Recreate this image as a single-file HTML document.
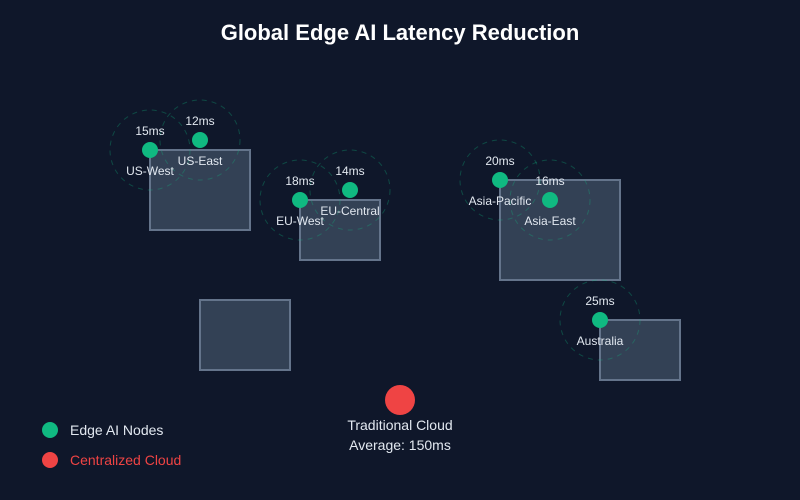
<!DOCTYPE html>
<html><head><style>body{margin:0;background:#0f172a}svg{display:block}</style></head><body>
<svg width="800" height="500" xmlns="http://www.w3.org/2000/svg" font-family="Liberation Sans, sans-serif">
<rect width="800" height="500" fill="#0f172a"/>
<text x="400" y="40" text-anchor="middle" font-size="22" font-weight="bold" fill="#fff">Global Edge AI Latency Reduction</text>
<g fill="#334155" stroke="#64748b" stroke-width="2">
<rect x="150" y="150" width="100" height="80"/>
<rect x="300" y="200" width="80" height="60"/>
<rect x="500" y="180" width="120" height="100"/>
<rect x="200" y="300" width="90" height="70"/>
<rect x="600" y="320" width="80" height="60"/>
</g>
<g fill="none" stroke="#10b981" stroke-opacity="0.3" stroke-dasharray="5,5">
<circle cx="150" cy="150" r="40"/><circle cx="200" cy="140" r="40"/>
<circle cx="300" cy="200" r="40"/><circle cx="350" cy="190" r="40"/>
<circle cx="500" cy="180" r="40"/><circle cx="550" cy="200" r="40"/>
<circle cx="600" cy="320" r="40"/>
</g>
<g fill="#10b981">
<circle cx="150" cy="150" r="8"/><circle cx="200" cy="140" r="8"/>
<circle cx="300" cy="200" r="8"/><circle cx="350" cy="190" r="8"/>
<circle cx="500" cy="180" r="8"/><circle cx="550" cy="200" r="8"/>
<circle cx="600" cy="320" r="8"/>
</g>
<g fill="#e2e8f0" font-size="12" text-anchor="middle">
<text x="150" y="135">15ms</text><text x="150" y="175">US-West</text>
<text x="200" y="125">12ms</text><text x="200" y="165">US-East</text>
<text x="300" y="185">18ms</text><text x="300" y="225">EU-West</text>
<text x="350" y="175">14ms</text><text x="350" y="215">EU-Central</text>
<text x="500" y="165">20ms</text><text x="500" y="205">Asia-Pacific</text>
<text x="550" y="185">16ms</text><text x="550" y="225">Asia-East</text>
<text x="600" y="305">25ms</text><text x="600" y="345">Australia</text>
</g>
<circle cx="400" cy="400" r="15" fill="#ef4444"/>
<g fill="#e2e8f0" font-size="14" text-anchor="middle">
<text x="400" y="430">Traditional Cloud</text>
<text x="400" y="450">Average: 150ms</text>
</g>
<circle cx="50" cy="430" r="8" fill="#10b981"/>
<text x="70" y="435" font-size="14" fill="#e2e8f0">Edge AI Nodes</text>
<circle cx="50" cy="460" r="8" fill="#ef4444"/>
<text x="70" y="465" font-size="14" fill="#ef4444">Centralized Cloud</text>
</svg>
</body></html>
